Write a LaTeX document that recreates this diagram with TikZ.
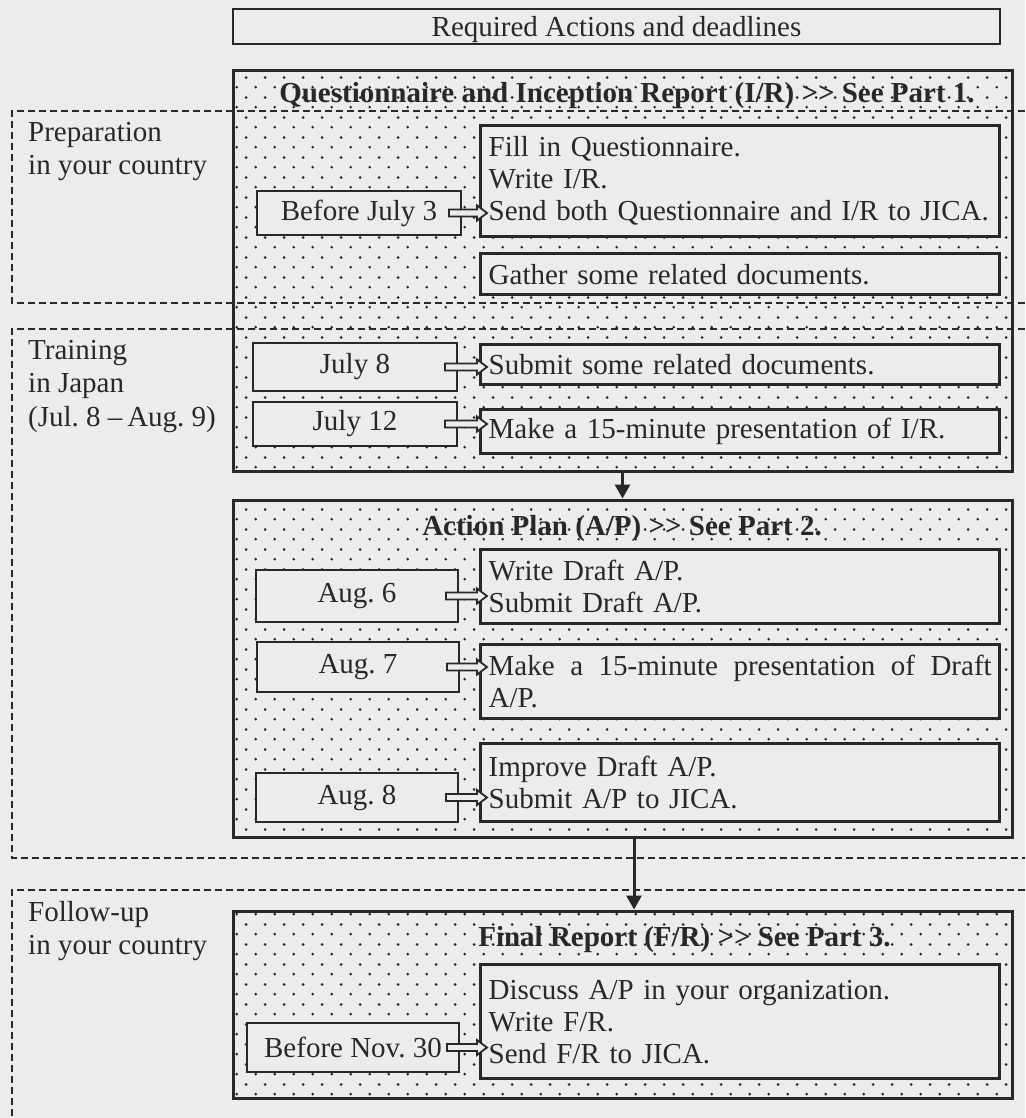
\documentclass[tikz,border=0pt]{standalone}
\usepackage{fontspec}
\setmainfont{Liberation Serif}
\usetikzlibrary{calc,patterns,arrows.meta}
\definecolor{paper}{RGB}{236,236,236}
\definecolor{ink}{RGB}{40,40,40}
\pgfdeclarepatternformonly{paperdots}{\pgfpointorigin}{\pgfpoint{19.4pt}{19.6pt}}{\pgfpoint{19.4pt}{19.6pt}}{%
  \pgfpathcircle{\pgfpoint{4.85pt}{4.9pt}}{1.5pt}%
  \pgfpathcircle{\pgfpoint{14.55pt}{14.7pt}}{1.5pt}%
  \pgfusepath{fill}}
\newcommand{\bodysize}{\fontsize{29}{32}\selectfont\frenchspacing}
\newcommand{\handover}[2]{%
  \draw[hollow] ($(#1.east)+(-13,-3.5)$) -- ($(#1.east -| #2.west)+(-2,-3.5)$) -- ++(0,-4)
    -- ($(#1.east -| #2.west)+(8,0)$) -- ($(#1.east -| #2.west)+(-2,7.5)$) -- ++(0,-4)
    -- ($(#1.east)+(-13,3.5)$) -- cycle;}
\tikzset{
  region/.style={draw=ink, line width=1.4pt, dash pattern=on 7pt off 4pt},
  part/.style={draw=ink, line width=3pt, pattern=paperdots, pattern color=ink, minimum width=779pt, inner sep=0pt},
  datebox/.style={draw=ink, line width=1.8pt, fill=paper, minimum width=204pt, inner sep=0pt},
  actbox/.style={draw=ink, line width=3.4pt, fill=paper, text width=503pt, inner xsep=8pt, inner ysep=3pt, align=left, anchor=north west},
  head/.style={font=\bodysize\bfseries, anchor=base},
  side/.style={font=\fontsize{29}{33.5}\selectfont\frenchspacing, align=left, anchor=north west, inner sep=0pt},
  hollow/.style={draw=ink, line width=1.8pt, fill=paper, line join=miter},
  flow/.style={draw=ink, line width=3pt, -{Triangle[length=14pt,width=15pt]}}
}
\begin{document}
\begin{tikzpicture}[x=1pt, y=-1pt, font=\bodysize, text=ink]
    \fill[paper] (0,0) rectangle (1025,1118);
    \useasboundingbox (0,0) rectangle (1025,1118);
    \draw[region] (1025,111) -- (12,111) -- (12,303) -- (1025,303);
    \draw[region] (1025,329) -- (12,329) -- (12,858) -- (1025,858);
    \draw[region] (1025,890) -- (12,890) -- (12,1118);
    \node[side] (prep) at (28,122) {Preparation\\in your country};
    \node[side] (train) at (28,340) {Training\\in Japan\\(Jul. 8 --\,Aug. 9)};
    \node[side] (follow) at (28,901) {Follow-up\\in your country};
    \node[draw=ink, line width=1.6pt, minimum width=767pt, minimum height=35pt, inner sep=0pt, text height=21pt, text depth=0pt] (title) at (616.5,26.5) {Required Actions and deadlines};
    \node[part, minimum height=400pt] (qbox) at (622.5,271) {};
    \node[part, minimum height=337pt] (apbox) at (622.5,668.5) {};
    \node[part, minimum height=187pt] (frbox) at (622.5,1004.5) {};
    \node[head] (qhead) at (627,103) {Questionnaire and Inception Report (I/R) >{}> See Part 1.};
    \node[head] (aphead) at (622,535) {Action Plan (A/P) >{}> See Part 2.};
    \node[head] (frhead) at (684.5,946) {Final Report (F/R) >{}> See Part 3.};
    \node[actbox, minimum height=111pt] (send) at (479,124) {Fill in Questionnaire.\\Write I/R.\\Send both Questionnaire and I/R to JICA.};
    \node[actbox, minimum height=41pt] (gather) at (479,252) {Gather some related documents.};
    \node[actbox, minimum height=40pt] (submit) at (479,343) {Submit some related documents.};
    \node[actbox, minimum height=44pt] (present) at (479,408) {Make a 15-minute presentation of I/R.};
    \node[actbox, minimum height=74pt] (draft) at (479,548) {Write Draft A/P.\\Submit Draft A/P.};
    \node[actbox, minimum height=74pt, align=justify] (talk) at (479,643) {Make a 15-minute presentation of Draft A/P.};
    \node[actbox, minimum height=78pt] (improve) at (479,742) {Improve Draft A/P.\\Submit A/P to JICA.};
    \node[actbox, minimum height=114pt] (discuss) at (479,963) {Discuss A/P in your organization.\\Write F/R.\\Send F/R to JICA.};
    \node[datebox, minimum height=44pt] (jul3) at (359,213) {Before July 3};
    \node[datebox, minimum height=48pt] (jul8) at (355,367) {July 8};
    \node[datebox, minimum height=44pt] (jul12) at (355,424) {July 12};
    \node[datebox, minimum width=202pt, minimum height=52pt] (aug6) at (357,596) {Aug. 6};
    \node[datebox, minimum width=202pt, minimum height=50pt] (aug7) at (358,667) {Aug. 7};
    \node[datebox, minimum width=202pt, minimum height=49pt] (aug8) at (357,797.5) {Aug. 8};
    \node[datebox, minimum width=212pt, minimum height=49pt] (nov30) at (353,1047.5) {Before Nov. 30};
    \handover{jul3}{send}
    \handover{jul8}{submit}
    \handover{jul12}{present}
    \handover{aug6}{draft}
    \handover{aug7}{talk}
    \handover{aug8}{improve}
    \handover{nov30}{discuss}
    \draw[flow] (qbox.south) -- (apbox.north);
    \draw[flow] ($(apbox.south)+(11.5,0)$) -- ($(frbox.north)+(11.5,0)$);
\end{tikzpicture}
\end{document}
